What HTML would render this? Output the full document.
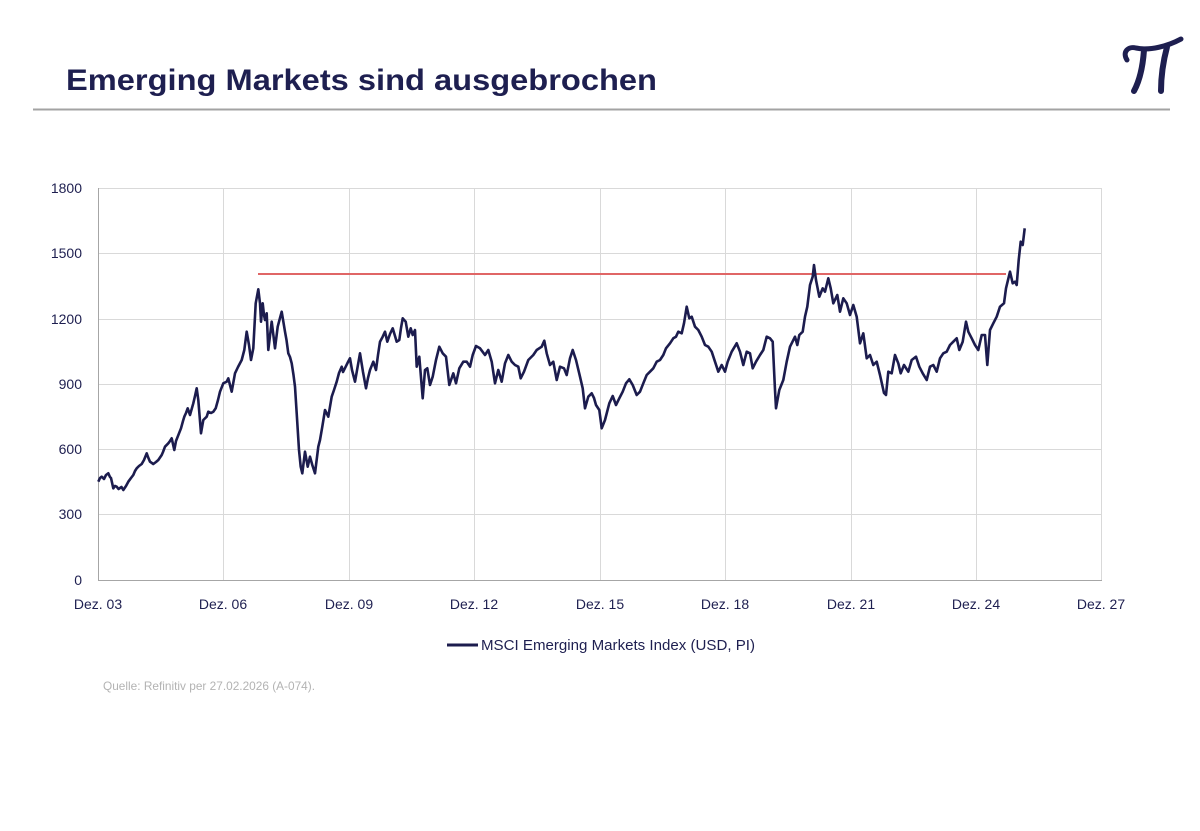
<!DOCTYPE html>
<html>
<head>
<meta charset="utf-8">
<style>
html,body{margin:0;padding:0;background:#fff;}
svg{display:block;}
</style>
</head>
<body>
<svg width="1200" height="831" viewBox="0 0 1200 831" xmlns="http://www.w3.org/2000/svg">
<rect width="1200" height="831" fill="#ffffff"/>
<!-- Title -->
<text x="66" y="90" font-family="Liberation Sans, sans-serif" font-weight="bold" font-size="30" fill="#1e1f50" textLength="591" lengthAdjust="spacingAndGlyphs">Emerging Markets sind ausgebrochen</text>
<!-- Rule -->
<line x1="33" y1="109.5" x2="1170" y2="109.5" stroke="#a3a3a3" stroke-width="2"/>
<!-- Logo -->
<g fill="none" stroke="#1e1f50" stroke-linecap="round">
<path d="M1127,60 C1122,52 1128,46 1136,48 C1150,51 1168,46 1181,39" stroke-width="5"/>
<path d="M1144,50 C1143,64 1140,80 1134,91" stroke-width="6"/>
<path d="M1167,47 C1163,62 1161,78 1161,91" stroke-width="6"/>
</g>
<!-- Grid -->
<g stroke="#d9d9d9" stroke-width="1">
<line x1="98" y1="188.5" x2="1101" y2="188.5"/>
<line x1="98" y1="253.5" x2="1101" y2="253.5"/>
<line x1="98" y1="319.5" x2="1101" y2="319.5"/>
<line x1="98" y1="384.5" x2="1101" y2="384.5"/>
<line x1="98" y1="449.5" x2="1101" y2="449.5"/>
<line x1="98" y1="514.5" x2="1101" y2="514.5"/>
<line x1="223.5" y1="188" x2="223.5" y2="580"/>
<line x1="349.5" y1="188" x2="349.5" y2="580"/>
<line x1="474.5" y1="188" x2="474.5" y2="580"/>
<line x1="600.5" y1="188" x2="600.5" y2="580"/>
<line x1="725.5" y1="188" x2="725.5" y2="580"/>
<line x1="851.5" y1="188" x2="851.5" y2="580"/>
<line x1="976.5" y1="188" x2="976.5" y2="580"/>
<line x1="1101.5" y1="188" x2="1101.5" y2="580"/>
</g>
<g stroke="#a6a6a6" stroke-width="1">
<line x1="98.5" y1="188" x2="98.5" y2="580"/>
<line x1="98" y1="580.5" x2="1102" y2="580.5"/>
</g>
<!-- Y labels -->
<g font-family="Liberation Sans, sans-serif" font-size="14" fill="#1e1f50" text-anchor="end">
<text x="82" y="193">1800</text>
<text x="82" y="258">1500</text>
<text x="82" y="324">1200</text>
<text x="82" y="389">900</text>
<text x="82" y="454">600</text>
<text x="82" y="519">300</text>
<text x="82" y="585">0</text>
</g>
<!-- X labels -->
<g font-family="Liberation Sans, sans-serif" font-size="14" fill="#1e1f50" text-anchor="middle">
<text x="98" y="609">Dez. 03</text>
<text x="223" y="609">Dez. 06</text>
<text x="349" y="609">Dez. 09</text>
<text x="474" y="609">Dez. 12</text>
<text x="600" y="609">Dez. 15</text>
<text x="725" y="609">Dez. 18</text>
<text x="851" y="609">Dez. 21</text>
<text x="976" y="609">Dez. 24</text>
<text x="1101" y="609">Dez. 27</text>
</g>
<!-- Red line -->
<line x1="258" y1="274" x2="1006" y2="274" stroke="#e06666" stroke-width="2"/>
<!-- Series -->
<polyline fill="none" stroke="#1c1c4e" stroke-width="2.6" stroke-linejoin="round" points="
98.3,481.7 100,478 101.7,476.7 104,479 106,475 108.3,473.3 110,477 111,478 113.3,488.3 115,486 116.7,486.7 118.5,489 120,488 121.5,487 123.3,490 126,486 128.3,481.7 131,478 133.3,475 135,471 136.7,468.3 139,466 141.7,464 144,460 146.7,453.3 148,457 150,461.7 153.3,464 156,462 158.3,460 161.7,455 163,452 165,446.7 168.3,443.3 170,441 171.7,438.3 174.3,450 176,441 177.7,436.7 181,428.3 183,421 184.3,416.7 186,413 187.7,408.3 190,415 193.3,403.3 195,396 196.7,388.3 198.3,400 201,433.3 203.3,420 206.7,416.7 208.3,411.7 211,413 213.3,411.7 215.7,408.3 218,400 220,391.7 223.3,383.3 226.7,381.7 228.3,378.3 230,385 231.7,391.7 235,373.3 238,367 241.7,360 244.3,350 246.7,331.7 249,345 251,360 253.3,348.3 255.7,303.3 258.3,289.3 260,303.3 261,321.7 262.7,303.3 264,315 265,320 266.7,313.3 268.3,350 271.7,321.7 273,332 275,348.3 277.7,326.7 280,318 281.7,311.7 285,331.7 286.5,340 288.3,353.3 290,357 291.7,363.3 293.5,375 295,386.7 296.7,413.3 299,450 300.7,466.7 302.3,473.3 305,451.7 307.7,466.7 310,456.7 312.3,465 315,473.3 318.3,446.7 320,440 322.3,426.7 325,410 328.3,416.7 331.7,396.7 334,390 336.7,381.7 339,373 341.7,366.7 343,372 345.7,366.7 348,362 350,358.3 352,370 355,381.7 360,353.3 363,372 366,388.3 368,378 370,370 373.3,361.7 376,370 378,355 380,341.7 382.7,336.7 385,331.7 387.3,341.7 390,334 392.7,328.3 395,336 396.7,341.7 399.3,340 401,328 402.7,318.3 405.7,321.7 408.3,336.7 410.7,328.3 412.7,335 415,330 416.7,366.7 419.3,356.7 422.7,398.3 425,370 427.3,368.3 430,385 432.7,376.7 436,360 439.3,346.7 442.7,353.3 446,356.7 449.3,385 453.3,373.3 456,383.3 459.3,368.3 463.3,361.7 466.7,361.7 470,366.7 472.7,355 476,346 480,348.3 485,355 488.3,350 491.7,361.7 495,383.3 498.3,370 501.7,381.7 505,363.3 508.3,355 511.7,361.7 515,365 518.3,366.7 520.7,378.3 524,371.7 528.3,360 533.3,355 536.7,350 541.7,346.7 544.3,340.7 546.7,353.3 550,365 553.3,361.7 556.7,380 560,366.7 564,368.3 566.7,375 570,358.3 572.7,350 576,360 580,376.7 582.7,388.3 585,408.3 588.3,396.7 591.7,393.3 594,398 596,405 599.3,410 601.7,428.3 605,420 609.3,403.3 612.7,396 616,405 619.3,398.3 622.7,391.7 626,383.3 629.3,379.3 632.7,385 636.7,395 640,391.7 643.3,383.3 646.7,375 650,371.7 653.3,368.3 656.7,361.7 660,360 663.3,355 666,348.3 670,343.3 673.3,338.3 676,336.7 678.3,331.7 681.7,333.3 684,323.3 686.7,306.7 689.3,318.3 691.7,316.7 695,326.7 698.3,330 701.7,336.7 705,345 708.3,346.7 711.7,351.7 715,361.7 718.3,371.7 721.7,365 725,371.7 727.7,361.7 731.7,351.7 736.7,343.3 740,351.7 743.3,365 746.7,351.7 750,353.3 752.7,368.3 756,361.7 760,355 763.3,350 766.7,336.7 770,338.3 772.7,341.7 775,390 776,408.3 779.3,390 783.3,380 786.7,361.7 790,346.7 791.7,343.3 795,336.7 797.3,345 799.3,335 802.7,331.7 805,316.7 807.3,306.7 810,285 812.7,276.7 814,265 816,280 819.3,296.7 822.7,288.3 825,291.7 828.3,278.3 830.7,288.3 833.3,303.3 837.3,295 840,311.7 843.3,298.3 846.7,303.3 850,315 853.3,305 856.7,316.7 860,343.3 863.3,333.3 866.7,358.3 870,355 873.3,365 876.7,361.7 880,375 884,393 886,395 888.3,371.7 891.7,373.3 895,355 898.3,363.3 900.7,373.3 904,365 908.3,371.7 911.7,360 916,356.7 919.3,366.7 922.7,373.3 926.7,380 930,366.7 933.3,365 936.7,371.7 940,358.3 943.3,353.3 946.7,351.7 950,345 953.3,341.7 956.7,338.3 959.3,350 962.7,341.7 966,321.7 968.3,331.7 971.7,338.3 975,345 978.3,350 981.7,335 985,335 987.3,365 990,330 993.3,323.3 996.7,316.7 1000,306.7 1004,303.3 1006,288.3 1010,271.7 1012.7,283.3 1015,281.7 1016.7,285 1018.7,260 1020.7,241.7 1022.7,245 1024.7,228.3"/>
<!-- Legend -->
<line x1="447" y1="645" x2="478" y2="645" stroke="#1c1c4e" stroke-width="3"/>
<text x="481" y="650" font-family="Liberation Sans, sans-serif" font-size="15" fill="#1e1f50" textLength="274" lengthAdjust="spacingAndGlyphs">MSCI Emerging Markets Index (USD, PI)</text>
<!-- Source -->
<text x="103" y="690" font-family="Liberation Sans, sans-serif" font-size="12" fill="#b3b3b3" textLength="212" lengthAdjust="spacingAndGlyphs">Quelle: Refinitiv per 27.02.2026 (A-074).</text>
</svg>
</body>
</html>
